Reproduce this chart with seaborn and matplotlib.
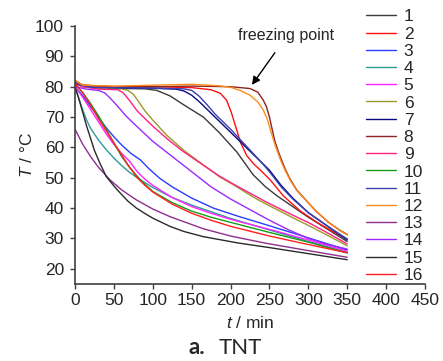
import matplotlib
matplotlib.use("Agg")
import pandas as pd
import matplotlib.pyplot as plt
import seaborn as sns
from matplotlib import font_manager

# cooling curves of 16 TNT samples (t in min, T in degC)
t_01 = [0, 10, 40, 90, 105, 122, 140, 165, 185, 208, 229, 245, 260, 280, 300, 325, 350]
T_01 = [81.5, 80, 79.5, 79.3, 78.8, 77, 74, 70, 65, 58.5, 51, 47, 44, 40.5, 37, 33, 29]
t_02 = [0, 10, 50, 100, 150, 175, 187, 195, 201, 207, 213, 221, 230, 238, 251, 268, 290, 310, 330, 350]
T_02 = [82, 80.5, 80, 80, 79.7, 79, 77.8, 75.5, 71.5, 66.5, 61.5, 57.2, 54.5, 52.6, 49.3, 44, 39, 35.5, 32.5, 29.8]
t_03 = [0, 10, 20, 30, 40, 50, 60, 72, 84, 95, 109, 125, 150, 178, 210, 246, 280, 315, 350]
T_03 = [80, 77, 73.5, 70, 66.5, 63.5, 60.8, 58, 55.9, 53, 49.8, 47, 43.3, 40, 37.3, 34.5, 31.8, 29, 26.2]
t_04 = [0, 5, 10, 15, 20, 30, 40, 50, 60, 70, 84, 100, 125, 150, 175, 200, 250, 300, 350]
T_04 = [80, 76, 72.3, 69, 66.3, 62.5, 59.3, 56.5, 54, 51.8, 49.3, 46.8, 43.5, 41, 38.8, 36.6, 32.8, 29, 25.4]
t_05 = [0, 10, 20, 30, 40, 50, 60, 70, 80, 90, 100, 125, 150, 175, 200, 250, 300, 350]
T_05 = [80, 76.5, 72.5, 68.5, 64.5, 61, 58, 55.5, 52, 49.5, 47.5, 43.5, 40.5, 38.3, 36.3, 33, 29.5, 25.8]
t_06 = [0, 10, 30, 60, 68, 75, 82, 90, 100, 118, 140, 161, 186, 205, 230, 246, 275, 300, 325, 350]
T_06 = [81, 80, 79.5, 79.3, 78.8, 77.5, 75, 72, 69, 64, 59, 55, 50.3, 47.5, 43.5, 41.3, 37.5, 34.3, 31, 27.6]
t_07 = [0, 20, 100, 130, 140, 150, 160, 180, 200, 220, 240, 250, 265, 280, 300, 325, 350]
T_07 = [81, 79.8, 79.5, 79.2, 78.6, 77.2, 75, 70, 65, 60, 55, 52.5, 47.5, 43.3, 38.5, 34, 29.5]
t_08 = [0, 10, 50, 100, 150, 200, 225, 235, 242, 246, 250, 253, 257, 263, 270, 276, 285, 298, 310, 325, 340, 350]
T_08 = [82, 80.5, 80, 80, 80.2, 80, 79.4, 78.2, 75.6, 73.5, 70, 66.5, 62, 57.5, 53, 49.8, 46, 42.3, 39, 35.5, 32.8, 31.3]
t_09 = [0, 10, 30, 55, 62, 70, 80, 90, 100, 120, 140, 160, 186, 210, 246, 275, 302, 325, 350]
T_09 = [81, 80, 79.2, 79, 78, 75.5, 72, 69.5, 67, 62.5, 58.5, 55, 50.5, 47, 42, 38.3, 35, 31.8, 28.2]
t_10 = [0, 10, 20, 30, 40, 50, 60, 70, 80, 90, 100, 125, 150, 175, 200, 250, 300, 350]
T_10 = [81, 78, 74.5, 70.5, 66, 61.5, 57, 53.5, 50.5, 47.8, 45.5, 41.8, 39, 37, 35.3, 32, 28.8, 25.2]
t_11 = [0, 20, 100, 140, 150, 160, 170, 180, 200, 220, 240, 250, 265, 280, 300, 325, 350]
T_11 = [81, 79.8, 79.5, 79.3, 78.8, 76.8, 74, 71, 66, 60.5, 55, 52, 47, 43, 38.5, 34, 29.8]
t_12 = [0, 10, 50, 100, 150, 185, 200, 212, 225, 235, 242, 247, 251, 257, 264, 270, 276, 285, 298, 310, 325, 340, 350]
T_12 = [82, 80.5, 80.2, 80.5, 80.8, 80.3, 79.8, 78.8, 77.2, 75, 72.3, 69.5, 66, 61, 56, 52.5, 49.5, 45.8, 42.3, 39, 35.5, 32.7, 31.2]
t_13 = [0, 10, 20, 30, 45, 60, 79, 100, 122, 165, 200, 246, 300, 350]
T_13 = [66, 61, 57, 53.5, 49.3, 46, 42.7, 39.7, 37.2, 33.2, 30.8, 28.4, 26, 23.8]
t_14 = [0, 15, 30, 38, 45, 55, 65, 75, 100, 125, 150, 175, 200, 225, 250, 275, 300, 325, 350]
T_14 = [80, 79.2, 78.8, 78, 76.3, 73.5, 70.5, 68, 62, 57, 52, 47, 43, 39.5, 36, 32.8, 30, 28, 26.5]
t_15 = [0, 5, 10, 15, 20, 25, 32, 40, 50, 58, 68, 79, 90, 100, 122, 140, 165, 210, 250, 300, 350]
T_15 = [80, 76, 71.5, 67, 63, 59, 54.8, 50.5, 47.3, 45, 42.3, 40, 38.2, 36.7, 34, 32.3, 30.6, 28.5, 27, 25, 23]
t_16 = [0, 10, 20, 30, 40, 50, 60, 70, 80, 90, 100, 125, 150, 175, 200, 250, 300, 350]
T_16 = [81, 78, 74, 69.5, 65.5, 61.5, 57.5, 53.5, 50, 47.5, 45.3, 41.3, 38.3, 36, 34, 30.8, 28, 25.3]

samples = [str(i) for i in range(1, 17)]
colors = ["#3a3a3a", "#ff1010", "#2a3cff", "#2f9a96", "#ff22ff", "#9a9a2a",
          "#0a0a80", "#8c2222", "#ff2080", "#1a9a1a", "#3a40b0", "#ff8c1a",
          "#8e2e8e", "#9a2aff", "#2a2a2a", "#ff2020"]

t_all = [t_01, t_02, t_03, t_04, t_05, t_06, t_07, t_08,
         t_09, t_10, t_11, t_12, t_13, t_14, t_15, t_16]
T_all = [T_01, T_02, T_03, T_04, T_05, T_06, T_07, T_08,
         T_09, T_10, T_11, T_12, T_13, T_14, T_15, T_16]

rows = []
for s, tt, TT in zip(samples, t_all, T_all):
    for a, b in zip(tt, TT):
        rows.append((s, a, b))
df = pd.DataFrame(rows, columns=["sample", "t", "T"])

sns.set_style("white")
installed = {f.name for f in font_manager.fontManager.ttflist}
base = "Liberation Sans Narrow" if "Liberation Sans Narrow" in installed else "Liberation Sans"
plt.rcParams["font.family"] = [base, "DejaVu Sans"]
plt.rcParams["mathtext.fontset"] = "custom"
plt.rcParams["mathtext.it"] = base + ":italic"

fig = plt.figure(figsize=(4.43, 3.61), dpi=100)
ax = fig.add_axes([75 / 443, 1 - 284 / 361, 350 / 443, 258 / 361])

sns.lineplot(data=df, x="t", y="T", hue="sample", hue_order=samples,
             palette=dict(zip(samples, colors)), sort=False, estimator=None,
             linewidth=1.0, ax=ax)

ax.set_xlim(0, 450)
ax.set_ylim(15, 100)
ax.set_xticks(range(0, 451, 50))
ax.set_yticks(range(20, 101, 10))
ax.tick_params(axis="both", direction="out", length=3.5, width=1, color="#404040",
               labelsize=12.5, pad=3, left=True, bottom=True)
ax.tick_params(axis="y", pad=4.5)
for side in ["top", "right"]:
    ax.spines[side].set_visible(False)
for side in ["left", "bottom"]:
    ax.spines[side].set_color("#404040")
    ax.spines[side].set_linewidth(1.2)

ax.set_xlabel(r"$\it{t}$ / min", fontsize=12.5, labelpad=5)
ax.set_ylabel(r"$\it{T}$ / °C", fontsize=12.5, labelpad=0)

ax.text(271, 97, "freezing point", fontsize=11.5, ha="center", va="center")
ax.annotate("", xy=(227.5, 80.6), xytext=(257, 91.2),
            arrowprops=dict(arrowstyle="-|>", color="black", lw=1,
                            mutation_scale=12, shrinkA=0, shrinkB=0))

sns.move_legend(ax, "upper left", bbox_to_anchor=(0.83, 1.065), frameon=False,
                title=None, fontsize=12.5, handlelength=1.75, handletextpad=0.45,
                labelspacing=0.12, borderaxespad=0, borderpad=0)

fig.text(205 / 443, 1 - 348 / 361, "a.", fontsize=16, fontweight="bold",
         family=["Lato", "DejaVu Sans"], ha="right", va="center")
fig.text(219 / 443, 1 - 348 / 361, "TNT", fontsize=16,
         family=["Lato", "DejaVu Sans"], ha="left", va="center")

fig.savefig("out.png", dpi=100)
